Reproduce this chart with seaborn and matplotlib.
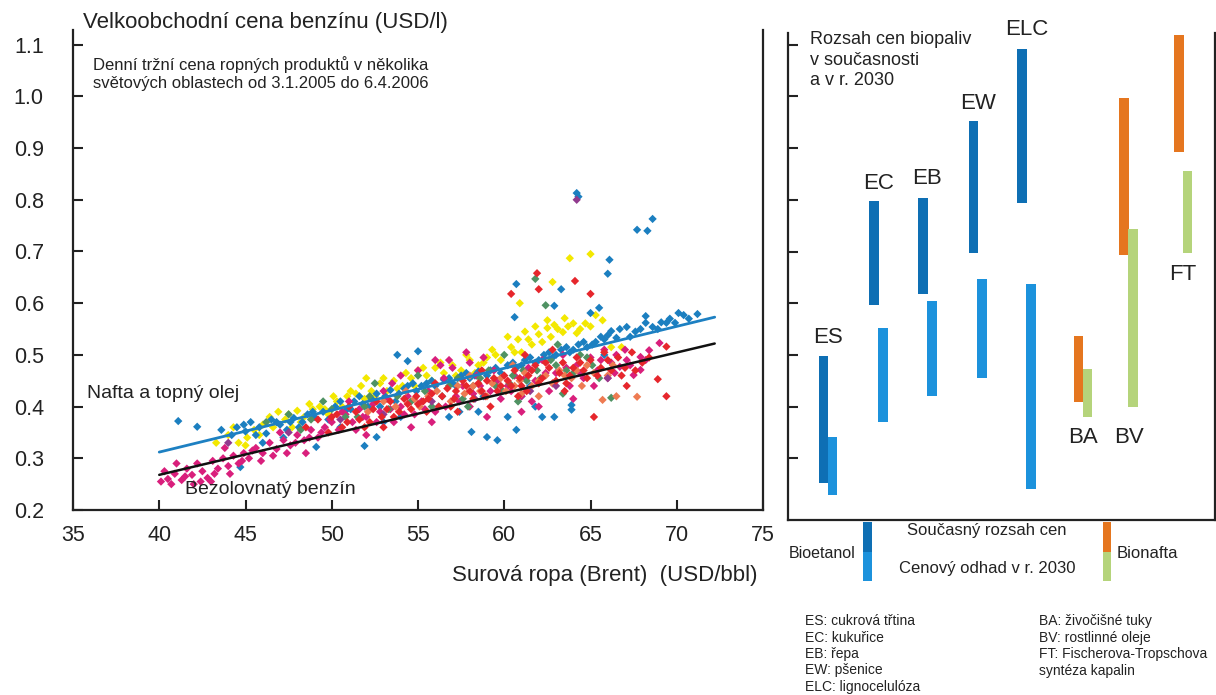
import numpy as np
import pandas as pd
import matplotlib
matplotlib.use("Agg")
import matplotlib.pyplot as plt
import seaborn as sns
from matplotlib.patches import Rectangle

# --- left panel: daily wholesale prices vs. Brent ---
blue_pts = [
    (41.1, 0.372), (42.2, 0.361), (43.6, 0.355), (44.2, 0.345), (44.5, 0.36), (45.0, 0.352),
    (45.3, 0.37), (45.8, 0.36), (46.2, 0.348), (46.5, 0.375), (47.0, 0.365), (47.4, 0.355),
    (47.8, 0.378), (48.3, 0.37), (48.6, 0.385), (49.0, 0.38), (49.5, 0.39), (44.7, 0.283),
    (46.0, 0.33), (47.2, 0.34), (49.1, 0.322), (50.2, 0.40), (50.8, 0.392), (51.3, 0.41),
    (51.8, 0.405), (52.3, 0.415), (52.8, 0.40), (53.4, 0.432), (53.9, 0.425), (54.4, 0.44),
    (54.9, 0.43), (51.9, 0.324), (52.6, 0.341), (53.0, 0.37), (54.0, 0.38), (53.8, 0.50),
    (54.4, 0.488), (55.0, 0.507), (50.5, 0.36), (55.5, 0.445), (56.0, 0.44), (56.5, 0.452),
    (57.0, 0.445), (57.5, 0.46), (58.0, 0.455), (58.5, 0.468), (59.0, 0.46), (59.5, 0.475),
    (57.4, 0.39), (58.1, 0.351), (59.0, 0.341), (59.6, 0.335), (56.2, 0.40), (58.8, 0.42),
    (60.2, 0.48), (60.7, 0.475), (61.2, 0.49), (61.8, 0.485), (62.3, 0.50), (62.8, 0.495),
    (63.3, 0.51), (63.8, 0.505), (64.3, 0.52), (64.8, 0.515), (60.7, 0.355), (62.2, 0.38),
    (62.9, 0.38), (63.9, 0.403), (63.9, 0.394), (61.0, 0.42), (60.6, 0.573), (60.7, 0.637),
    (62.9, 0.595), (63.3, 0.627), (64.2, 0.813), (64.3, 0.806), (65.0, 0.581), (65.5, 0.591),
    (61.5, 0.44), (65.3, 0.525), (65.8, 0.53), (66.0, 0.538), (66.2, 0.546), (66.5, 0.533),
    (66.7, 0.55), (67.1, 0.554), (67.6, 0.545), (68.2, 0.562), (68.6, 0.554), (69.1, 0.563),
    (69.4, 0.562), (69.9, 0.562), (68.2, 0.575), (70.1, 0.581), (70.4, 0.577), (71.2, 0.579),
    (66.0, 0.657), (66.1, 0.684), (67.7, 0.742), (68.3, 0.740), (68.6, 0.763), (65.8, 0.50),
    (44.9, 0.365), (45.6, 0.345), (46.8, 0.37), (47.6, 0.37), (48.1, 0.36), (48.9, 0.39),
    (49.8, 0.375), (50.5, 0.41), (51.1, 0.395), (51.6, 0.42), (52.1, 0.40), (52.6, 0.425),
    (53.1, 0.42), (53.7, 0.41), (54.2, 0.435), (54.7, 0.445), (55.2, 0.44), (55.8, 0.45),
    (56.8, 0.455), (57.2, 0.44), (57.8, 0.465), (58.3, 0.46), (59.2, 0.47), (59.8, 0.465),
    (60.5, 0.485), (61.0, 0.48), (61.5, 0.495), (62.0, 0.49), (62.6, 0.505), (63.0, 0.50),
    (63.6, 0.515), (64.0, 0.51), (64.6, 0.525), (65.1, 0.52), (65.6, 0.535), (67.3, 0.535),
    (67.9, 0.55), (68.9, 0.55), (69.6, 0.57), (70.7, 0.57), (58.5, 0.39), (56.8, 0.38),
    (61.8, 0.40), (60.2, 0.38),
]
yellow_pts = [
    (43.3, 0.33), (44.0, 0.345), (44.6, 0.33), (45.1, 0.34), (45.5, 0.355), (46.0, 0.365),
    (46.4, 0.38), (46.9, 0.39), (47.3, 0.375), (47.7, 0.36), (48.0, 0.392), (48.4, 0.38),
    (48.9, 0.395), (49.3, 0.40), (49.8, 0.385), (45.0, 0.325), (50.3, 0.41), (50.9, 0.42),
    (51.4, 0.425), (51.9, 0.415), (52.3, 0.43), (52.8, 0.445), (53.2, 0.43), (53.6, 0.45),
    (54.1, 0.44), (54.6, 0.455), (52.0, 0.455), (55.0, 0.47), (55.5, 0.46), (56.0, 0.475),
    (56.5, 0.465), (57.0, 0.48), (57.5, 0.47), (58.0, 0.49), (58.5, 0.48), (59.0, 0.495),
    (59.5, 0.50), (56.8, 0.45), (58.3, 0.465), (60.4, 0.515), (60.8, 0.53), (61.2, 0.545),
    (61.6, 0.52), (62.0, 0.54), (62.5, 0.552), (62.9, 0.558), (63.4, 0.544), (63.5, 0.571),
    (64.0, 0.561), (64.2, 0.542), (64.7, 0.561), (65.3, 0.577), (65.7, 0.567), (62.5, 0.567),
    (60.9, 0.600), (62.8, 0.641), (63.8, 0.687), (65.0, 0.695), (66.2, 0.515), (66.8, 0.515),
    (61.0, 0.505), (44.3, 0.36), (45.8, 0.345), (46.6, 0.36), (47.5, 0.385), (48.2, 0.37),
    (48.7, 0.405), (49.6, 0.395), (50.1, 0.42), (50.6, 0.40), (51.1, 0.43), (51.7, 0.44),
    (52.5, 0.42), (53.0, 0.455), (53.8, 0.435), (54.3, 0.465), (54.8, 0.44), (55.3, 0.475),
    (55.8, 0.45), (56.3, 0.485), (57.2, 0.46), (57.8, 0.50), (58.8, 0.485), (59.3, 0.51),
    (59.8, 0.49), (60.2, 0.535), (60.6, 0.505), (61.4, 0.53), (61.8, 0.555), (62.2, 0.525),
    (62.7, 0.535), (63.1, 0.55), (63.7, 0.555), (64.4, 0.55), (65.0, 0.555),
]
magenta_pts = [
    (40.1, 0.255), (40.5, 0.26), (40.9, 0.27), (41.3, 0.258), (41.6, 0.28), (41.9, 0.268),
    (42.2, 0.29), (42.5, 0.275), (42.8, 0.262), (43.1, 0.295), (43.4, 0.28), (43.7, 0.30),
    (44.0, 0.285), (44.3, 0.305), (44.6, 0.29), (44.9, 0.31), (42.0, 0.25), (43.0, 0.255),
    (41.0, 0.29), (43.8, 0.32), (45.2, 0.30), (45.6, 0.32), (46.0, 0.31), (46.4, 0.33),
    (46.8, 0.318), (47.2, 0.335), (47.6, 0.325), (48.0, 0.345), (48.4, 0.335), (48.8, 0.355),
    (49.2, 0.34), (49.6, 0.36), (47.0, 0.35), (48.5, 0.31), (50.0, 0.37), (50.4, 0.355),
    (50.8, 0.385), (51.2, 0.37), (51.6, 0.395), (52.0, 0.38), (52.4, 0.405), (52.8, 0.39),
    (53.2, 0.415), (53.6, 0.37), (54.0, 0.40), (54.4, 0.42), (54.8, 0.385), (51.0, 0.41),
    (53.0, 0.43), (52.0, 0.345), (55.2, 0.41), (55.6, 0.43), (56.0, 0.39), (56.3, 0.48),
    (56.8, 0.49), (57.2, 0.42), (57.6, 0.44), (58.0, 0.40), (58.4, 0.46), (58.8, 0.495),
    (59.2, 0.43), (59.6, 0.45), (56.5, 0.455), (57.8, 0.505), (59.0, 0.38), (55.8, 0.37),
    (60.2, 0.44), (60.6, 0.46), (61.0, 0.42), (61.4, 0.475), (61.8, 0.45), (62.2, 0.49),
    (62.6, 0.43), (63.0, 0.465), (63.4, 0.50), (63.8, 0.44), (64.2, 0.48), (64.6, 0.455),
    (65.0, 0.495), (65.4, 0.47), (65.8, 0.51), (62.0, 0.40), (64.0, 0.415), (61.0, 0.39),
    (66.2, 0.485), (66.7, 0.477), (67.1, 0.49), (67.5, 0.461), (67.9, 0.496), (68.4, 0.509),
    (69.0, 0.523), (66.5, 0.50), (67.9, 0.471), (67.0, 0.51), (40.3, 0.275), (40.7, 0.25),
    (41.5, 0.265), (42.4, 0.255), (43.2, 0.27), (44.1, 0.27), (44.8, 0.295), (45.4, 0.315),
    (45.9, 0.295), (46.6, 0.305), (47.4, 0.31), (47.9, 0.33), (48.7, 0.34), (49.4, 0.35),
    (49.9, 0.375), (50.6, 0.39), (51.4, 0.355), (51.8, 0.38), (52.6, 0.37), (53.4, 0.395),
    (54.2, 0.385), (54.6, 0.36), (55.4, 0.395), (56.6, 0.40), (57.4, 0.41), (58.2, 0.425),
    (58.6, 0.44), (59.4, 0.47), (59.8, 0.415), (60.4, 0.43), (61.2, 0.455), (61.6, 0.41),
    (62.4, 0.465), (62.8, 0.445), (63.6, 0.475), (64.4, 0.465), (65.2, 0.44), (65.6, 0.49),
    (66.0, 0.455), (66.4, 0.465), (67.3, 0.48), (68.2, 0.49), (54.0, 0.46), (55.0, 0.47),
    (57.0, 0.475), (56.0, 0.49), (58.0, 0.485), (53.5, 0.445),
]
red_pts = [
    (48.5, 0.36), (49.2, 0.375), (49.8, 0.35), (50.3, 0.385), (50.9, 0.37), (51.4, 0.39),
    (51.9, 0.36), (52.4, 0.395), (52.9, 0.38), (53.4, 0.41), (53.9, 0.39), (54.4, 0.405),
    (54.9, 0.42), (51.0, 0.40), (53.0, 0.36), (55.3, 0.41), (55.8, 0.425), (56.2, 0.40),
    (56.7, 0.435), (57.1, 0.415), (57.6, 0.45), (58.0, 0.43), (58.5, 0.445), (58.9, 0.42),
    (59.4, 0.455), (59.8, 0.44), (56.0, 0.445), (57.3, 0.39), (58.7, 0.47), (55.5, 0.39),
    (59.2, 0.40), (60.2, 0.45), (60.6, 0.47), (61.0, 0.44), (61.4, 0.46), (61.8, 0.48),
    (62.2, 0.455), (62.6, 0.475), (63.0, 0.45), (63.4, 0.485), (63.8, 0.46), (64.2, 0.495),
    (64.6, 0.47), (65.0, 0.49), (65.4, 0.46), (65.8, 0.505), (61.2, 0.50), (62.8, 0.51),
    (60.8, 0.42), (63.5, 0.43), (61.9, 0.658), (62.0, 0.627), (60.4, 0.618), (64.1, 0.643),
    (65.0, 0.618), (65.2, 0.38), (66.2, 0.47), (66.6, 0.495), (67.0, 0.475), (67.4, 0.505),
    (68.0, 0.485), (68.9, 0.453), (69.4, 0.420), (69.4, 0.516), (67.1, 0.44),
    (50.0, 0.38), (50.6, 0.36), (51.6, 0.375), (52.2, 0.37), (52.6, 0.41), (53.2, 0.395),
    (53.6, 0.38), (54.2, 0.415), (54.6, 0.395), (55.0, 0.405), (55.6, 0.415), (56.4, 0.42),
    (56.9, 0.40), (57.8, 0.44), (58.2, 0.415), (58.7, 0.43), (59.6, 0.43), (60.0, 0.46),
    (60.4, 0.44), (60.9, 0.455), (61.6, 0.47), (62.0, 0.445), (62.4, 0.485), (63.2, 0.465),
    (63.6, 0.445), (64.0, 0.475), (64.4, 0.485), (64.8, 0.455), (65.6, 0.475), (66.0, 0.49),
    (66.8, 0.46), (67.6, 0.47), (68.4, 0.495), (61.3, 0.43), (59.0, 0.45), (57.2, 0.43),
]
green_pts = [
    (46.2, 0.37), (47.5, 0.385), (48.8, 0.375), (50.0, 0.395), (51.5, 0.38), (52.2, 0.42),
    (53.3, 0.395), (54.6, 0.41), (55.4, 0.43), (56.4, 0.42), (57.3, 0.455), (58.2, 0.44),
    (59.1, 0.47), (59.9, 0.43), (60.5, 0.46), (61.3, 0.45), (61.9, 0.47), (62.7, 0.49),
    (63.6, 0.47), (64.4, 0.50), (65.1, 0.48), (66.2, 0.417), (61.8, 0.647), (62.4, 0.596),
    (57.9, 0.40), (60.0, 0.50), (63.1, 0.52), (55.0, 0.46), (52.5, 0.445), (49.5, 0.41),
    (48.2, 0.355), (50.8, 0.38), (51.9, 0.40), (53.8, 0.42), (55.8, 0.40), (56.8, 0.44),
    (57.6, 0.415), (58.6, 0.455), (59.5, 0.44), (60.3, 0.445), (61.1, 0.47), (62.1, 0.455),
    (63.0, 0.48), (64.0, 0.465), (64.8, 0.495), (65.5, 0.455), (60.8, 0.41), (63.4, 0.425),
]
salmon_pts = [
    (52.1, 0.39), (53.7, 0.40), (55.1, 0.40), (56.1, 0.43), (56.9, 0.41), (57.7, 0.425),
    (58.6, 0.43), (59.3, 0.445), (60.1, 0.43), (60.9, 0.45), (61.6, 0.44), (62.4, 0.46),
    (63.2, 0.47), (63.9, 0.455), (64.8, 0.48), (65.7, 0.413), (66.5, 0.42), (67.7, 0.419),
    (62.0, 0.42), (60.5, 0.48), (58.0, 0.46), (64.5, 0.44), (54.3, 0.43), (66.0, 0.46),
    (53.0, 0.41), (54.8, 0.415), (55.6, 0.42), (57.3, 0.44), (58.2, 0.44), (59.0, 0.42),
    (59.8, 0.455), (60.6, 0.44), (61.2, 0.465), (62.0, 0.45), (62.8, 0.445), (63.5, 0.46),
    (64.2, 0.47), (65.2, 0.465), (66.3, 0.48), (61.0, 0.425),
]
purple_pts = [
    (44.0, 0.33), (47.5, 0.35), (50.5, 0.375), (53.0, 0.385), (55.8, 0.41), (58.3, 0.415),
    (61.5, 0.43), (64.2, 0.80), (63.0, 0.44), (66.0, 0.455),
]

# trend lines (end points)
trend_x = [40.0, 72.2]
diesel_trend = [0.312, 0.573]
petrol_trend = [0.268, 0.522]

x_ticks = [35, 40, 45, 50, 55, 60, 65, 70, 75]
y_ticks = [0.2, 0.3, 0.4, 0.5, 0.6, 0.7, 0.8, 0.9, 1.0, 1.1]

# --- right panel: biofuel price ranges (USD/l), today and 2030 ---
fuel_labels = ["ES", "EC", "EB", "EW", "ELC", "BA", "BV", "FT"]
fuel_kind = ["etanol", "etanol", "etanol", "etanol", "etanol", "nafta", "nafta", "nafta"]
current_low = [0.252, 0.596, 0.617, 0.698, 0.794, 0.408, 0.694, 0.892]
current_high = [0.498, 0.798, 0.804, 0.952, 1.092, 0.536, 0.996, 1.119]
future_low = [0.229, 0.371, 0.421, 0.456, 0.241, 0.379, 0.399, 0.698]
future_high = [0.342, 0.552, 0.604, 0.646, 0.637, 0.473, 0.743, 0.856]
label_y = [0.533, 0.832, 0.842, 0.987, 1.130, 0.341, 0.341, 0.655]
slot = [0.83, 2.01, 3.16, 4.34, 5.48, 6.80, 7.87, 9.15]

colors = {
    "yellow": "#f3e800", "blue": "#1b7fc0", "magenta": "#d91f7c", "green": "#4f9263",
    "salmon": "#ee7b52", "purple": "#913a8e", "red": "#e6262c",
}
dark_col = {"etanol": "#0e6fb4", "nafta": "#e5761f"}
light_col = {"etanol": "#1c92dc", "nafta": "#b5d47b"}

sns.set_style("white")
plt.rcParams["font.family"] = ["Liberation Sans", "DejaVu Sans"]
ink = "#222222"

W, H = 1216, 695
fig = plt.figure(figsize=(W / 100, H / 100), dpi=100)

# left axes
ax = fig.add_axes([73 / W, (H - 510) / H, 690 / W, 480 / H])
groups = [("yellow", yellow_pts), ("blue", blue_pts), ("magenta", magenta_pts),
          ("green", green_pts), ("salmon", salmon_pts), ("purple", purple_pts),
          ("red", red_pts)]
rows = [(x, y, name) for name, pts in groups for x, y in pts]
df = pd.DataFrame(rows, columns=["brent", "cena", "skupina"])
sns.scatterplot(data=df, x="brent", y="cena", hue="skupina", palette=colors,
                marker="D", s=18, linewidth=0, legend=False, ax=ax, zorder=2)
sns.lineplot(x=trend_x, y=diesel_trend, color="#1d80c2", lw=2.0, ax=ax, zorder=3)
sns.lineplot(x=trend_x, y=petrol_trend, color="#111111", lw=1.8, ax=ax, zorder=3)

ax.set_xlim(35, 75)
ax.set_ylim(0.2, 1.1284)
ax.set_xticks(x_ticks)
ax.set_yticks(y_ticks)
ax.set_yticklabels([f"{v:.1f}" for v in y_ticks])
ax.set_xlabel("")
ax.set_ylabel("")
ax.tick_params(axis="both", direction="in", length=7, width=1.5, colors=ink,
               labelsize=15.5, labelcolor=ink, bottom=True, left=True)
ax.tick_params(axis="y", pad=21)
ax.tick_params(axis="x", pad=11)
for side in ["left", "bottom", "right"]:
    ax.spines[side].set_linewidth(1.6)
    ax.spines[side].set_color(ink)
ax.spines["top"].set_visible(False)

ax.text(35.58, 1.142, "Velkoobchodní cena benzínu (USD/l)", fontsize=16, color=ink,
        va="center", ha="left", clip_on=False)
ax.text(36.16, 1.045, "Denní tržní cena ropných produktů v několika\n"
        "světových oblastech od 3.1.2005 do 6.4.2006", fontsize=12, color=ink,
        va="center", ha="left", linespacing=1.25)
ax.text(35.81, 0.426, "Nafta a topný olej", fontsize=14, color=ink, va="center", ha="left")
ax.text(41.49, 0.239, "Bezolovnatý benzín", fontsize=14, color=ink, va="center", ha="left")
ax.text(65.84, 0.074, "Surová ropa (Brent)  (USD/bbl)", fontsize=16, color=ink,
        va="center", ha="center", clip_on=False)

# right axes
rx = fig.add_axes([788 / W, (H - 520) / H, 427 / W, 487 / H])
rx.set_xlim(0, 10)
rx.set_ylim(0.1807, 1.1226)
bw = 0.225
for i, lab in enumerate(fuel_labels):
    k = fuel_kind[i]
    rx.bar(slot[i], current_high[i] - current_low[i], bottom=current_low[i], width=bw,
           color=dark_col[k], linewidth=0, zorder=2)
    rx.bar(slot[i] + 0.21, future_high[i] - future_low[i], bottom=future_low[i], width=bw,
           color=light_col[k], linewidth=0, zorder=2)
    rx.text(slot[i] + 0.105, label_y[i], lab, fontsize=16, color=ink, ha="center",
            va="center", clip_on=False)
rx.set_xticks([])
rx.set_yticks(y_ticks[1:])
rx.set_yticklabels([])
rx.tick_params(axis="y", direction="in", length=7, width=1.5, colors=ink, left=True)
for side in ["left", "bottom", "right"]:
    rx.spines[side].set_linewidth(1.6)
    rx.spines[side].set_color(ink)
rx.spines["top"].set_visible(False)
rx.text(0.515, 1.070, "Rozsah cen biopaliv\nv současnosti\na v r. 2030", fontsize=13,
        color=ink, va="center", ha="left", linespacing=1.25)

# legend keys under the right panel (pixel-like coordinates)
lg = fig.add_axes([788 / W, (H - 600) / H, 427 / W, 80 / H])
lg.set_xlim(788, 1215)
lg.set_ylim(600, 520)
lg.axis("off")
lg.add_patch(Rectangle((863, 522), 9, 30, color=dark_col["etanol"], lw=0))
lg.add_patch(Rectangle((863, 552), 9, 29, color=light_col["etanol"], lw=0))
lg.add_patch(Rectangle((1103, 522), 8, 30, color=dark_col["nafta"], lw=0))
lg.add_patch(Rectangle((1103, 552), 8, 29, color=light_col["nafta"], lw=0))
lg.text(856, 553, "Bioetanol", fontsize=11.5, color=ink, ha="right", va="center")
lg.text(1117, 553, "Bionafta", fontsize=12, color=ink, ha="left", va="center")
lg.text(987, 530, "Současný rozsah cen", fontsize=12, color=ink, ha="center", va="center")
lg.text(987, 568, "Cenový odhad v r. 2030", fontsize=12, color=ink, ha="center", va="center")

fig.text(805 / W, 1 - 654 / H, "ES: cukrová třtina\nEC: kukuřice\nEB: řepa\nEW: pšenice\n"
         "ELC: lignocelulóza", fontsize=10, color=ink, ha="left", va="center",
         linespacing=1.22)
fig.text(1039 / W, 1 - 646 / H, "BA: živočišné tuky\nBV: rostlinné oleje\n"
         "FT: Fischerova-Tropschova\nsyntéza kapalin", fontsize=10, color=ink,
         ha="left", va="center", linespacing=1.22)

fig.savefig("out.png", dpi=100)
